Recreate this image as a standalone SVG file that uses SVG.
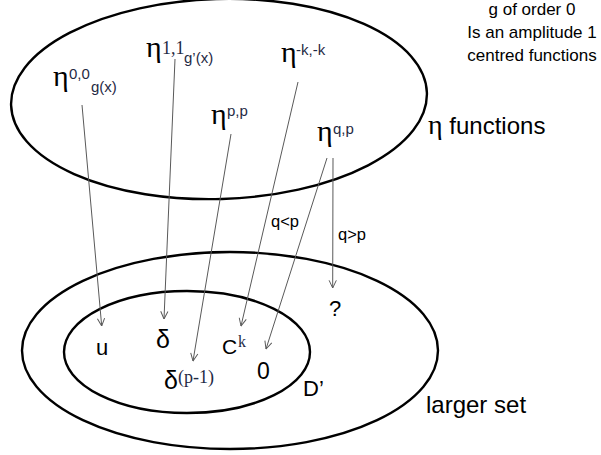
<svg xmlns="http://www.w3.org/2000/svg" width="601" height="455" viewBox="0 0 601 455">
<style>
.set{fill:none;stroke:#000;stroke-width:2.4}
.s{font-family:"Liberation Sans",Arial,sans-serif;fill:#000}
.g{font-family:"Liberation Serif","DejaVu Serif",serif;fill:#000}
.sup{font-family:"Liberation Sans",Arial,sans-serif;font-size:15px;fill:#1f2a44}
.supr{font-family:"Liberation Serif","DejaVu Serif",serif;fill:#1f2a44}
.eta{font-size:30px}
.c{stroke:#595959;stroke-width:1;fill:none}
</style>
<defs>
<marker id="ah" viewBox="0 0 10 10" refX="9.5" refY="5" markerWidth="9" markerHeight="9" markerUnits="userSpaceOnUse" orient="auto">
<path d="M1,1 L9.5,5 L1,9" fill="none" stroke="#595959" stroke-width="1.1"/>
</marker>
</defs>
<rect width="601" height="455" fill="#fff"/>

<g id="eta-functions">
<ellipse class="set" cx="219" cy="99" rx="208" ry="100" transform="rotate(-1.7 219 99)"/>
<text class="g" x="428" y="134" font-size="28">η<tspan class="s" font-size="24"> functions</tspan></text>
</g>
<g id="larger-set">
<ellipse class="set" cx="230" cy="350.5" rx="208" ry="98.5"/>
<text class="s" x="426" y="413" font-size="24">larger set</text>
</g>
<g id="D-prime">
<ellipse class="set" cx="187" cy="352" rx="123" ry="61"/>
<text class="s" x="303" y="396" font-size="22">D’</text>
</g>

<g id="note">
<text class="s" font-size="17" text-anchor="middle"><tspan x="532" y="15">g of order 0</tspan><tspan x="532" y="38">Is an amplitude 1</tspan><tspan x="532" y="61">centred functions</tspan></text>
</g>

<g id="eta00"><text class="g eta" x="53" y="86">η</text><text class="sup" x="69" y="79" font-size="16">0,0</text><text class="sup" x="91" y="92" font-size="16">g(x)</text></g>
<g id="eta11"><text class="g eta" x="146" y="57">η</text><text class="supr" x="162" y="54" font-size="18">1,1</text><text class="sup" x="184" y="63" font-size="16">g’(x)</text></g>
<g id="etakk"><text class="g eta" x="281" y="62">η</text><text class="sup" x="296" y="55" font-size="16">-k,-k</text></g>
<g id="etapp"><text class="g eta" x="211" y="124">η</text><text class="sup" x="227" y="116" font-size="16">p,p</text></g>
<g id="etaqp"><text class="g eta" x="317" y="141">η</text><text class="sup" x="333" y="134" font-size="16">q,p</text></g>

<g id="u"><text class="s" x="96" y="355" font-size="22">u</text></g>
<g id="delta"><text class="s" x="156" y="348" font-size="25">δ</text></g>
<g id="Ck"><text class="s" x="222" y="354" font-size="21">C</text><text class="supr" x="238" y="347" font-size="16">k</text></g>
<g id="zero"><text class="s" x="257" y="379" font-size="23">0</text></g>
<g id="deltap"><text class="s" x="164" y="389" font-size="25">δ</text><text class="supr" x="178" y="383" font-size="18">(p-1)</text></g>
<g id="unknown"><text class="s" x="329" y="316" font-size="22">?</text></g>

<g id="connectors">
<line class="c" x1="82" y1="105" x2="101.7" y2="326" marker-end="url(#ah)"/>
<line class="c" x1="175" y1="59" x2="164" y2="319" marker-end="url(#ah)"/>
<line class="c" x1="231" y1="134" x2="193" y2="361" marker-end="url(#ah)"/>
<line class="c" x1="298" y1="82" x2="241" y2="326" marker-end="url(#ah)"/>
<line class="c" x1="327" y1="158" x2="266" y2="349" marker-end="url(#ah)"/>
<line class="c" x1="333" y1="158" x2="332.7" y2="288" marker-end="url(#ah)"/>
<text class="s" x="271" y="227" font-size="16.5">q&lt;p</text>
<text class="s" x="338" y="240" font-size="16.5">q&gt;p</text>
</g>
</svg>
